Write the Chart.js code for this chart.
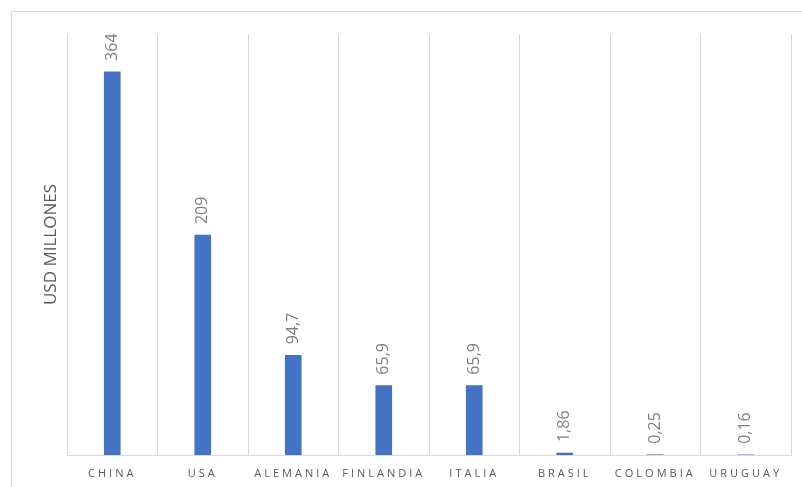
<!DOCTYPE html>
<html>
<head>
<meta charset="utf-8">
<script src="https://cdn.jsdelivr.net/npm/chart.js@4.4.1/dist/chart.umd.min.js"></script>
<style>
html,body{margin:0;padding:0;background:#fff;}
#wrap{position:relative;width:802px;height:487px;}
</style>
</head>
<body>
<div id="wrap"><canvas id="c" width="802" height="487"></canvas></div>
<script>
const categories = ['CHINA','USA','ALEMANIA','FINLANDIA','ITALIA','BRASIL','COLOMBIA','URUGUAY'];
const values = [364, 209, 94.7, 65.9, 65.9, 1.86, 0.25, 0.16];
const yTitle = 'USD MILLONES';
const yMin = 0, yMax = 400;

const frame = {
  id: 'frame',
  beforeDraw(chart) {
    const ctx = chart.ctx;
    ctx.save();
    ctx.fillStyle = '#fff';
    ctx.fillRect(0, 0, chart.width, chart.height);
    ctx.strokeStyle = '#d9d9d9';
    ctx.lineWidth = 1;
    ctx.beginPath();
    ctx.moveTo(11.5, chart.height);
    ctx.lineTo(11.5, 11.5);
    ctx.lineTo(chart.width, 11.5);
    ctx.stroke();
    ctx.restore();
    const sx = chart.scales.x;
    if (!sx._patched) {
      const orig = sx.drawLabels;
      sx.drawLabels = function(area) {
        const c = this.ctx;
        c.save();
        c.letterSpacing = '3px';
        orig.call(this, area);
        c.restore();
      };
      sx._patched = true;
    }
  }
};

const valueLabels = {
  id: 'valueLabels',
  afterDatasetsDraw(chart) {
    const ctx = chart.ctx;
    const meta = chart.getDatasetMeta(0);
    ctx.save();
    ctx.font = '16px "Open Sans"';
    ctx.fillStyle = '#7f7f7f';
    ctx.textAlign = 'left';
    ctx.textBaseline = 'middle';
    meta.data.forEach((bar, i) => {
      const txt = String(values[i]).replace('.', ',');
      ctx.save();
      ctx.translate(bar.x, bar.y - 11);
      ctx.rotate(-Math.PI / 2);
      ctx.fillText(txt, 0, 0);
      ctx.restore();
    });
    ctx.restore();
  }
};

new Chart(document.getElementById('c'), {
  type: 'bar',
  data: {
    labels: categories,
    datasets: [{
      data: values,
      backgroundColor: '#4472c4',
      barThickness: 16
    }]
  },
  options: {
    responsive: false,
    animation: false,
    layout: { padding: { top: 34, right: 11, left: 0, bottom: 0 } },
    plugins: { legend: { display: false }, tooltip: { enabled: false } },
    scales: {
      x: {
        grid: { color: '#d9d9d9', drawTicks: false, offset: true },
        border: { color: '#d9d9d9' },
        ticks: { color: '#595959', font: { family: '"Open Sans"', size: 11 }, padding: 12, maxRotation: 0, autoSkip: false },
        afterFit(s) { s.height = 32; }
      },
      y: {
        min: yMin, max: yMax,
        grid: { display: false },
        border: { display: false },
        ticks: { display: false },
        title: { display: true, text: yTitle, color: '#595959', font: { family: '"Open Sans"', size: 17 }, padding: { top: 41, bottom: 0 } },
        afterFit(s) { s.width = 67; }
      }
    }
  },
  plugins: [frame, valueLabels]
});
</script>
</body>
</html>
